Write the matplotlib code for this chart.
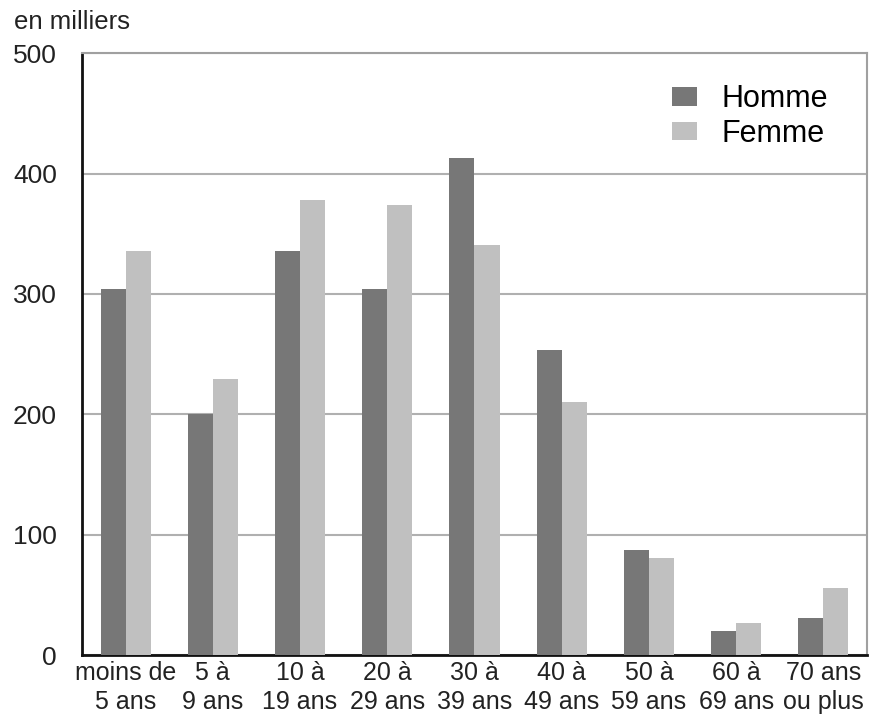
import numpy as np
import matplotlib
matplotlib.use('Agg')
import matplotlib.pyplot as plt

plt.rcParams['font.family'] = ['Liberation Sans', 'DejaVu Sans']

categories = ['moins de\n5 ans', '5 à\n9 ans', '10 à\n19 ans', '20 à\n29 ans',
              '30 à\n39 ans', '40 à\n49 ans', '50 à\n59 ans', '60 à\n69 ans',
              '70 ans\nou plus']
homme = [304, 200, 336, 304, 413, 253, 87, 20, 31]
femme = [336, 229, 378, 374, 341, 210, 81, 27, 56]
yticks = [0, 100, 200, 300, 400, 500]

fig = plt.figure(figsize=(8.78, 7.18), dpi=100)
ax = fig.add_axes([0.0934, 0.0877, 0.894, 0.8383])

x = np.arange(len(categories))
w = 0.287
ax.bar(x - w / 2, homme, w, color='#777777', label='Homme', zorder=3)
ax.bar(x + w / 2, femme, w, color='#c0c0c0', label='Femme', zorder=3)

ax.set_xlim(-0.5, len(categories) - 0.5)
ax.set_ylim(0, 500)
ax.set_yticks(yticks)
ax.set_yticklabels([str(v) for v in yticks], fontsize=19, color='#222222')
ax.set_xticks(x)
ax.set_xticklabels(categories, fontsize=18, color='#222222', linespacing=1.28)
ax.tick_params(axis='both', length=0)
ax.tick_params(axis='y', pad=18)
ax.tick_params(axis='x', pad=4)

ax.grid(axis='y', color='#b0b0b0', linewidth=1.5, zorder=0)
for s in ['top', 'right']:
    ax.spines[s].set_color('#a0a0a0')
    ax.spines[s].set_linewidth(1.5)
for s in ['left', 'bottom']:
    ax.spines[s].set_color('#111111')
    ax.spines[s].set_linewidth(2)

fig.text(0.016, 0.969, 'en milliers', fontsize=18.5, color='#222222', va='center')

ax.legend(loc='upper left', bbox_to_anchor=(0.7483, 0.904),
          bbox_transform=fig.transFigure, frameon=False, borderpad=0,
          fontsize=22, handlelength=0.8, handleheight=0.55, handletextpad=0.8,
          labelspacing=0.16)

fig.savefig('out.png', dpi=100)
